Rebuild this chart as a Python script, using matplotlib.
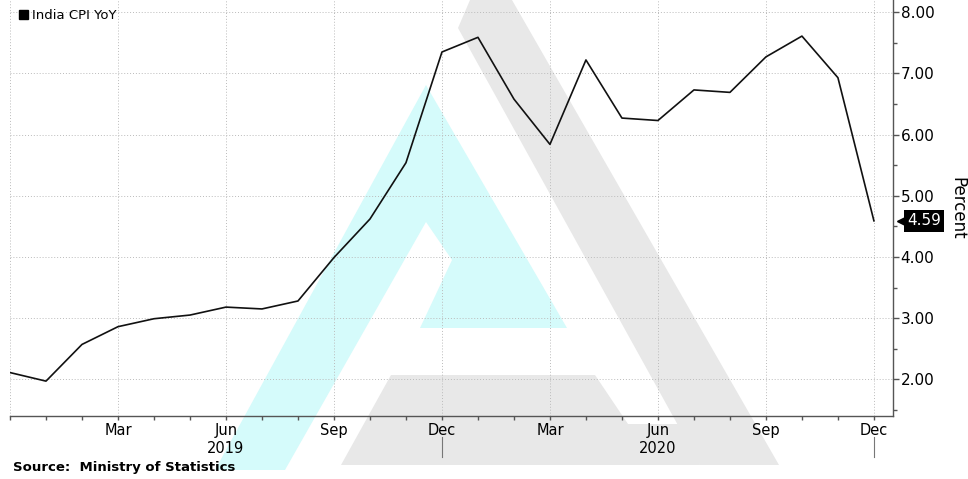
import numpy as np
import matplotlib.pyplot as plt
import matplotlib.transforms as mtransforms
from matplotlib.patches import Polygon, Patch
from matplotlib.ticker import MultipleLocator, FormatStrFormatter

# India CPI YoY, monthly Dec 2018 .. Dec 2020
months = ["Dec", "Jan", "Feb", "Mar", "Apr", "May", "Jun", "Jul", "Aug", "Sep", "Oct", "Nov",
          "Dec", "Jan", "Feb", "Mar", "Apr", "May", "Jun", "Jul", "Aug", "Sep", "Oct", "Nov", "Dec"]
cpi = [2.11, 1.97, 2.57, 2.86, 2.99, 3.05, 3.18, 3.15, 3.28, 3.99, 4.62, 5.54,
       7.35, 7.59, 6.58, 5.84, 7.22, 6.27, 6.23, 6.73, 6.69, 7.27, 7.61, 6.93, 4.59]
years = ["2019", "2020"]
year_pos = [6, 18]
year_breaks = [12, 24]

W, H = 968, 479
plt.rcParams["font.family"] = "DejaVu Sans"

fig = plt.figure(figsize=(W / 100, H / 100), dpi=100)
ax = fig.add_axes([10 / W, (H - 416) / H, (893 - 10) / W, 416 / H])
ax.set_facecolor("none")


# watermark logo (pixel coords from top-left)
def px(pts):
    return [(x / W, 1 - y / H) for x, y in pts]


cyan = [(426, 85), (567, 328), (420, 328), (452, 260), (426, 222), (285, 470), (215, 470)]
grey_stroke = [(458, 28), (470, 0), (512, 0), (779, 465), (700, 465)]
grey_bar = [(391, 375), (595, 375), (628, 424), (690, 424), (700, 465), (341, 465)]
for pts, col in [(cyan, "#d5fbfb"), (grey_stroke, "#e8e8e8"), (grey_bar, "#e8e8e8")]:
    fig.add_artist(Polygon(px(pts), closed=True, transform=fig.transFigure,
                           facecolor=col, edgecolor="none", zorder=-5))

x = np.arange(len(cpi))
ax.plot(x, cpi, color="#111111", lw=1.2, zorder=3)

ax.set_xlim(0, 24.53)
ax.set_ylim(1.40, 8.2)

# spines
ax.spines["top"].set_visible(False)
ax.spines["left"].set_visible(False)
for s in ["bottom", "right"]:
    ax.spines[s].set_color("#555555")
    ax.spines[s].set_linewidth(1.0)

# y axis on the right
ax.yaxis.tick_right()
ax.yaxis.set_major_locator(MultipleLocator(1))
ax.yaxis.set_minor_locator(MultipleLocator(0.5))
ax.yaxis.set_major_formatter(FormatStrFormatter("%.2f"))
ax.tick_params(axis="y", which="major", direction="out", length=4.5, width=1, color="#555555",
               pad=1, labelsize=11)
ax.tick_params(axis="y", which="minor", direction="out", length=3, width=1, color="#555555")
ax.text(1.073, 0.5, "Percent", transform=ax.transAxes, rotation=-90, fontsize=12,
        ha="center", va="center")

# x axis: monthly ticks, quarter labels
quarters = list(range(0, len(cpi), 3))
ax.set_xticks(quarters)
ax.set_xticklabels(["" if q == 0 else months[q] for q in quarters])
ax.set_xticks(x, minor=True)
ax.tick_params(axis="x", which="both", direction="out", length=3, width=1, color="#555555",
               pad=2, labelsize=10.5)

trans = mtransforms.blended_transform_factory(ax.transData, ax.transAxes)
for yr, p in zip(years, year_pos):
    ax.text(p, -0.077, yr, transform=trans, ha="center", va="center", fontsize=10.5)
for b in year_breaks:
    ax.plot([b, b], [-0.05, -0.099], transform=trans, color="#777777", lw=0.8, clip_on=False)

# grid
ax.grid(True, which="major", color="#bbbbbb", lw=0.7, linestyle=(0, (1, 2)))

# last value tag
tag = mtransforms.blended_transform_factory(ax.transAxes, ax.transData)
ax.plot([1.011], [cpi[-1]], marker="<", ms=8, color="black", transform=tag, clip_on=False, zorder=5)
ax.text(1.016, cpi[-1], f"{cpi[-1]:.2f}", transform=tag, ha="left", va="center", color="white",
        fontsize=11, zorder=6,
        bbox=dict(boxstyle="square,pad=0.22", facecolor="black", edgecolor="none"))

# legend
ax.legend(handles=[Patch(facecolor="black", edgecolor="black", label="India CPI YoY")],
          loc="upper left", bbox_to_anchor=(0.0, 1.0), frameon=False, fontsize=9.5,
          handlelength=0.7, handleheight=0.7, handletextpad=0.3, borderaxespad=0.3)

fig.text(13 / W, 1 - 467 / H, "Source:  Ministry of Statistics", fontsize=9.5,
         fontweight="bold", ha="left", va="center")

fig.savefig("out.png", dpi=100)
